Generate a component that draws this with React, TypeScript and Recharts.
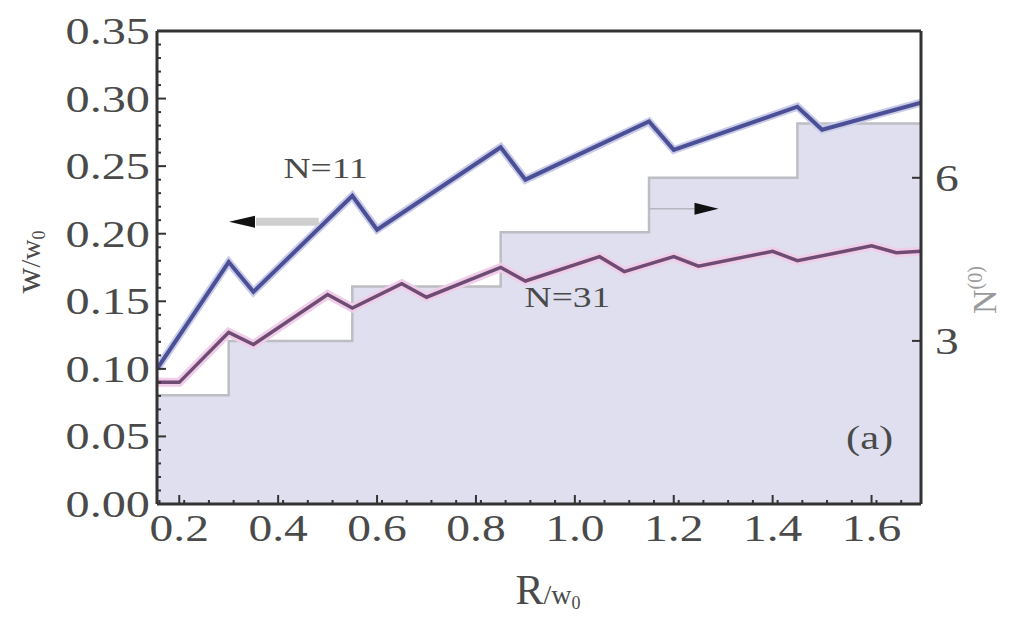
import {
  ComposedChart,
  Area,
  Line,
  XAxis,
  YAxis,
  ReferenceLine,
  ReferenceDot,
} from "recharts";

// N=11 curve
const r11 = [0.155, 0.3, 0.35, 0.55, 0.6, 0.85, 0.9, 1.15, 1.2, 1.45, 1.5, 1.7];
const w11 = [0.1, 0.179, 0.157, 0.228, 0.203, 0.264, 0.24, 0.283, 0.262, 0.294, 0.277, 0.297];

// N=31 curve
const r31 = [0.155, 0.2, 0.3, 0.35, 0.5, 0.55, 0.65, 0.7, 0.85, 0.9, 1.05, 1.1, 1.2, 1.25, 1.4, 1.45, 1.6, 1.65, 1.7];
const w31 = [0.09, 0.09, 0.127, 0.118, 0.155, 0.145, 0.163, 0.153, 0.175, 0.165, 0.183, 0.172, 0.183, 0.176, 0.187, 0.18, 0.191, 0.186, 0.187];

// N^(0) staircase (right axis)
const rStep = [0.155, 0.3, 0.55, 0.85, 1.15, 1.45, 1.7];
const nStep = [2, 3, 4, 5, 6, 7, 7];

const xTicks = [0.2, 0.4, 0.6, 0.8, 1.0, 1.2, 1.4, 1.6];
const yTicks = [0, 0.05, 0.1, 0.15, 0.2, 0.25, 0.3, 0.35];
const nTicks = [3, 6];

// minor ticks, decoration only
const xMinor: number[] = [];
for (let i = 16; i <= 169; i += 5) xMinor.push(i / 100);
const yMinor: number[] = [];
for (let i = 0; i <= 35; i++) yMinor.push(i / 100);

type Row = { r: number; w11?: number; w31?: number; n0?: number };
const rows = new Map<number, Row>();
const put = (r: number, k: "w11" | "w31" | "n0", v: number) => {
  const row = rows.get(r) ?? { r };
  row[k] = v;
  rows.set(r, row);
};
r11.forEach((r, i) => put(r, "w11", w11[i]));
r31.forEach((r, i) => put(r, "w31", w31[i]));
rStep.forEach((r, i) => put(r, "n0", nStep[i]));
const data = [...rows.values()].sort((a, b) => a.r - b.r);

const FONT = "'Liberation Serif', 'DejaVu Serif', serif";
const INK = "#4a4a4a";
const FRAME = "#333";

const isMajor = (v: number, list: number[]) => list.some((t) => Math.abs(t - v) < 1e-6);

const LeftTick = (p: any) => {
  const v = p.payload.value;
  const ax = p.x + 7;
  const major = isMajor(v, yTicks);
  return (
    <g>
      <line x1={ax} x2={ax + (major ? 9 : 4)} y1={p.y} y2={p.y} stroke={FRAME} strokeWidth={2} />
      {major && (
        <g transform={`translate(${p.x},${p.y}) scale(1.27,1)`}>
          <text x={0} y={0} dy="0.34em" textAnchor="end" fontFamily={FONT} fontSize={38} fill={INK}>
            {v.toFixed(2)}
          </text>
        </g>
      )}
    </g>
  );
};

const BottomTick = (p: any) => {
  const v = p.payload.value;
  const ay = p.y - 10;
  const major = isMajor(v, xTicks);
  return (
    <g>
      <line x1={p.x} x2={p.x} y1={ay} y2={ay - (major ? 9 : 4)} stroke={FRAME} strokeWidth={2} />
      {major && (
        <g transform={`translate(${p.x},${p.y}) scale(1.25,1)`}>
          <text x={0} y={0} dy="0.72em" textAnchor="middle" fontFamily={FONT} fontSize={38} fill={INK}>
            {v.toFixed(1)}
          </text>
        </g>
      )}
    </g>
  );
};

const RightTick = (p: any) => {
  const ax = p.x - 14;
  return (
    <g>
      <line x1={ax} x2={ax - 9} y1={p.y} y2={p.y} stroke={FRAME} strokeWidth={2} />
      <g transform={`translate(${p.x},${p.y}) scale(1.25,1)`}>
        <text x={0} y={0} dy="0.34em" textAnchor="start" fontFamily={FONT} fontSize={38} fill={INK}>
          {p.payload.value}
        </text>
      </g>
    </g>
  );
};

const textAt = (txt: string, size: number) => (p: any) => (
  <g transform={`translate(${p.cx},${p.cy}) scale(1.25,1)`}>
    <text x={0} y={0} dy="0.34em" textAnchor="middle" fontFamily={FONT} fontSize={size} fill={INK}>
      {txt}
    </text>
  </g>
);

const headLeft = (p: any) => (
  <polygon points={`${p.cx},${p.cy} ${p.cx + 26},${p.cy - 6} ${p.cx + 26},${p.cy + 6}`} fill="#111" />
);
const headRight = (p: any) => (
  <polygon points={`${p.cx},${p.cy} ${p.cx - 24},${p.cy - 6} ${p.cx - 24},${p.cy + 6}`} fill="#111" />
);

export default function App() {
  return (
    <div style={{ position: "absolute", left: 0, top: 0, background: "#fff" }}>
      <ComposedChart width={1012} height={617} data={data} margin={{ top: 30, right: 0, bottom: 0, left: 0 }}>
        <XAxis
          xAxisId="b"
          dataKey="r"
          type="number"
          domain={[0.155, 1.7]}
          ticks={[...xTicks, ...xMinor]}
          interval={0}
          tick={BottomTick}
          tickSize={0}
          tickMargin={10}
          tickLine={false}
          axisLine={{ stroke: FRAME, strokeWidth: 3 }}
          height={113}
          allowDataOverflow
          label={(p: any) => (
            <text x={548} y={604} textAnchor="middle" fontFamily={FONT} fill={INK}>
              <tspan fontSize={42}>R</tspan>
              <tspan fontSize={28}>/w</tspan>
              <tspan fontSize={18} dy={5}>0</tspan>
            </text>
          )}
        />
        <XAxis
          xAxisId="t"
          dataKey="r"
          type="number"
          orientation="top"
          domain={[0.155, 1.7]}
          tick={false}
          tickLine={false}
          axisLine={{ stroke: FRAME, strokeWidth: 3 }}
          height={1}
          allowDataOverflow
        />
        <YAxis
          yAxisId="left"
          domain={[0, 0.35]}
          ticks={yMinor}
          interval={0}
          tick={LeftTick}
          tickSize={0}
          tickMargin={7}
          tickLine={false}
          axisLine={{ stroke: FRAME, strokeWidth: 3 }}
          width={157}
          allowDataOverflow
          label={() => (
            <text
              transform="translate(40,262) rotate(-90)"
              textAnchor="middle"
              fontFamily={FONT}
              fill={INK}
            >
              <tspan fontSize={36}>w</tspan>
              <tspan fontSize={28}>/w</tspan>
              <tspan fontSize={18} dy={5}>0</tspan>
            </text>
          )}
        />
        <YAxis
          yAxisId="right"
          orientation="right"
          domain={[0, 8.7]}
          ticks={nTicks}
          interval={0}
          tick={RightTick}
          tickSize={0}
          tickMargin={14}
          tickLine={false}
          axisLine={{ stroke: FRAME, strokeWidth: 3 }}
          width={91}
          allowDataOverflow
          label={() => (
            <text
              transform="translate(996,290) rotate(-90)"
              textAnchor="middle"
              fontFamily={FONT}
              fill="#9a9a9a"
            >
              <tspan fontSize={34}>N</tspan>
              <tspan fontSize={20} dy={-14}>(0)</tspan>
            </text>
          )}
        />

        <Area
          xAxisId="b"
          yAxisId="right"
          type="stepAfter"
          dataKey="n0"
          connectNulls
          fill="#dfdfef"
          fillOpacity={1}
          stroke="#bdbdc4"
          strokeWidth={2.5}
          isAnimationActive={false}
          dot={false}
          activeDot={false}
        />

        <Line
          xAxisId="b"
          yAxisId="left"
          dataKey="w31"
          connectNulls
          stroke="#f0cde8"
          strokeWidth={9}
          dot={false}
          activeDot={false}
          isAnimationActive={false}
        />
        <Line
          xAxisId="b"
          yAxisId="left"
          dataKey="w31"
          connectNulls
          stroke="#6e4c74"
          strokeWidth={3.5}
          dot={false}
          activeDot={false}
          isAnimationActive={false}
        />
        <Line
          xAxisId="b"
          yAxisId="left"
          dataKey="w11"
          connectNulls
          stroke="#c9cbe8"
          strokeWidth={8}
          dot={false}
          activeDot={false}
          isAnimationActive={false}
        />
        <Line
          xAxisId="b"
          yAxisId="left"
          dataKey="w11"
          connectNulls
          stroke="#4b4f96"
          strokeWidth={4}
          dot={false}
          activeDot={false}
          isAnimationActive={false}
        />

        {/* arrow to the left axis */}
        <ReferenceLine
          xAxisId="b"
          yAxisId="left"
          segment={[
            { x: 0.355, y: 0.2089 },
            { x: 0.482, y: 0.2089 },
          ]}
          stroke="#cfcfcf"
          strokeWidth={8}
        />
        <ReferenceDot xAxisId="b" yAxisId="left" x={0.3006} y={0.2089} r={0} shape={headLeft} />

        {/* arrow to the right axis */}
        <ReferenceLine
          xAxisId="b"
          yAxisId="left"
          segment={[
            { x: 1.15, y: 0.2185 },
            { x: 1.26, y: 0.2185 },
          ]}
          stroke="#b5b5c0"
          strokeWidth={1.5}
        />
        <ReferenceDot xAxisId="b" yAxisId="left" x={1.2905} y={0.2185} r={0} shape={headRight} />

        <ReferenceDot xAxisId="b" yAxisId="left" x={0.496} y={0.249} r={0} shape={textAt("N=11", 30)} />
        <ReferenceDot xAxisId="b" yAxisId="left" x={0.985} y={0.153} r={0} shape={textAt("N=31", 30)} />
        <ReferenceDot xAxisId="b" yAxisId="left" x={1.596} y={0.049} r={0} shape={textAt("(a)", 34)} />
      </ComposedChart>
    </div>
  );
}
